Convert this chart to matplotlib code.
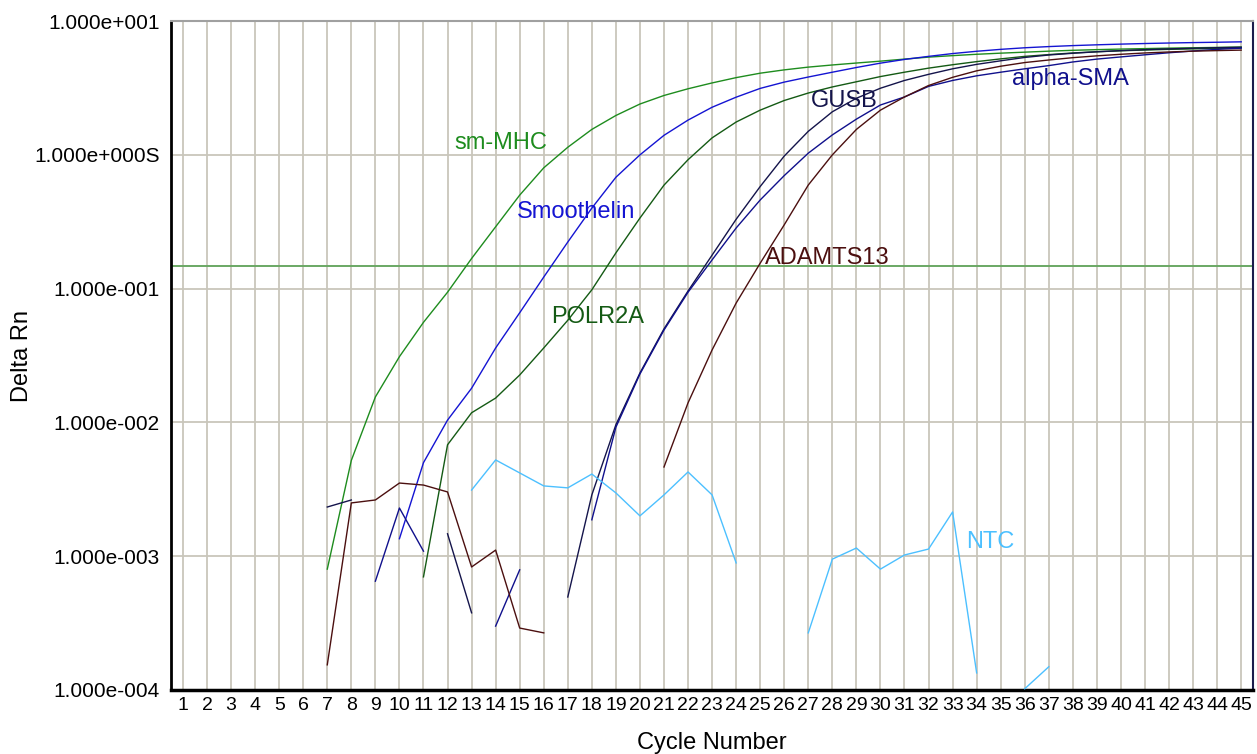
#!/usr/bin/env python3
"""
Amplification plot (Delta Rn vs cycle, log scale) for the qPCR run
"""

import numpy as np
import matplotlib
matplotlib.use("Agg")
import matplotlib.pyplot as plt

nan = np.nan

cycles = np.arange(1, 46)

# Delta Rn per cycle, nan where the value is not plotted
sm_mhc = [nan] * 6 + [
    8.0e-4, 5.2e-3, 0.0155, 0.031, 0.056, 0.094, 0.168, 0.29, 0.50, 0.80,
    1.14, 1.55, 1.97, 2.40, 2.78, 3.12, 3.45, 3.78, 4.08, 4.32,
    4.53, 4.70, 4.86, 5.02, 5.20, 5.38, 5.52, 5.65, 5.76, 5.86,
    5.96, 6.05, 6.12, 6.18, 6.23, 6.28, 6.32, 6.36, 6.40]

smoothelin = [nan] * 9 + [
    1.35e-3, 5.0e-3, 0.0104, 0.018, 0.036, 0.066, 0.122, 0.223, 0.40, 0.68,
    1.0, 1.40, 1.82, 2.27, 2.70, 3.14, 3.50, 3.82, 4.15, 4.50,
    4.85, 5.17, 5.45, 5.72, 5.95, 6.15, 6.32, 6.45, 6.56, 6.65,
    6.73, 6.80, 6.86, 6.91, 6.95, 7.00]

polr2a = [nan] * 10 + [
    7.0e-4, 6.8e-3, 0.0118, 0.0152, 0.0226, 0.036, 0.058, 0.098, 0.185,
    0.337, 0.594, 0.92, 1.34, 1.76, 2.16, 2.55, 2.90, 3.22, 3.52,
    3.85, 4.15, 4.45, 4.72, 4.98, 5.22, 5.45, 5.62, 5.78, 5.90,
    6.00, 6.08, 6.15, 6.20, 6.25, 6.30]

gusb = [nan] * 6 + [
    2.33e-3, 2.63e-3, nan, nan, nan, 1.47e-3, 3.77e-4, nan, nan, nan,
    4.95e-4, 2.87e-3, 9.6e-3, 0.0234, 0.050, 0.096, 0.178, 0.33, 0.58,
    0.98, 1.50, 2.10, 2.65, 3.15, 3.60, 4.00, 4.40, 4.75, 5.05,
    5.35, 5.58, 5.75, 5.90, 6.02, 6.12, 6.20, 6.27, 6.33, 6.38]

alpha_sma = [nan] * 8 + [
    6.5e-4, 2.29e-3, 1.09e-3, nan, nan, 3.0e-4, 7.9e-4, nan, nan,
    1.87e-3, 9.2e-3, 0.023, 0.049, 0.094, 0.164, 0.284, 0.46,
    0.70, 1.03, 1.41, 1.85, 2.36, 2.71, 3.25, 3.60, 3.90, 4.15,
    4.40, 4.65, 4.95, 5.20, 5.40, 5.60, 5.80, 5.98, 6.15, 6.28]

adamts13 = [nan] * 6 + [
    1.54e-4, 2.5e-3, 2.63e-3, 3.52e-3, 3.40e-3, 3.02e-3, 8.3e-4, 1.11e-3,
    2.9e-4, 2.67e-4, nan, nan, nan, nan,
    4.64e-3, 0.0140, 0.0348, 0.078, 0.155, 0.30, 0.595, 1.0, 1.55,
    2.16, 2.71, 3.30, 3.80, 4.25, 4.60, 4.90, 5.12, 5.33, 5.50,
    5.65, 5.78, 5.88, 5.96, 6.02, 6.07]

ntc = [nan] * 12 + [
    3.12e-3, 5.24e-3, 4.19e-3, 3.35e-3, 3.24e-3, 4.11e-3, 2.97e-3, 2.0e-3,
    2.87e-3, 4.26e-3, 2.87e-3, 8.9e-4, nan, nan,
    2.67e-4, 9.5e-4, 1.15e-3, 8.0e-4, 1.02e-3, 1.13e-3, 2.14e-3, 1.34e-4,
    nan, 1.02e-4, 1.49e-4, nan, nan, nan, nan, nan, nan, nan, nan]

threshold = 0.148

# (name, values, colour, label cycle, label Delta Rn)
series = [
    ("sm-MHC", sm_mhc, "#1e8c1e", 14.2, 1.22),
    ("Smoothelin", smoothelin, "#1414d2", 17.35, 0.373),
    ("POLR2A", polr2a, "#145a14", 18.25, 0.0613),
    ("GUSB", gusb, "#14144b", 28.5, 2.52),
    ("alpha-SMA", alpha_sma, "#10108c", 37.9, 3.69),
    ("ADAMTS13", adamts13, "#4b0f0f", 27.8, 0.169),
    ("NTC", ntc, "#4cc0ff", 34.57, 1.28e-3),
]

ytick_vals = [1e-4, 1e-3, 1e-2, 1e-1, 1e0, 1e1]
ytick_labels = ["1.000e-004", "1.000e-003", "1.000e-002",
                "1.000e-001", "1.000e+000S", "1.000e+001"]


def main():
    plt.rcParams['font.family'] = ['Liberation Sans', 'DejaVu Sans']
    fig = plt.figure(figsize=(12.57, 7.54), dpi=100)
    ax = fig.add_axes([0.136, 0.085, 0.861, 0.887])

    ax.axhline(threshold, color="#6aa864", lw=1.4, zorder=2)
    for name, vals, col, lx, ly in series:
        ax.plot(cycles, vals, color=col, lw=1.0, zorder=3)
        ax.text(lx, ly, name, color=col, fontsize=17,
                ha="center", va="center", zorder=4)

    ax.set_yscale("log")
    ax.set_xlim(0.5, 45.5)
    ax.set_ylim(1e-4, 1e1)
    ax.set_xticks(cycles)
    ax.set_xticklabels([str(c) for c in cycles], fontsize=14)
    ax.set_yticks(ytick_vals, ytick_labels, fontsize=15)
    ax.yaxis.set_minor_locator(matplotlib.ticker.NullLocator())
    ax.tick_params(axis="both", length=0)
    ax.tick_params(axis="y", pad=8)
    ax.tick_params(axis="x", pad=5)

    ax.grid(True, color="#c9c6bb", lw=1.3, zorder=1)
    ax.set_axisbelow(True)

    ax.spines["left"].set_color("black")
    ax.spines["left"].set_linewidth(2.0)
    ax.spines["bottom"].set_color("black")
    ax.spines["bottom"].set_linewidth(2.5)
    ax.spines["top"].set_color("#a0a0a0")
    ax.spines["top"].set_linewidth(1.5)
    ax.spines["right"].set_color("#1c1c4c")
    ax.spines["right"].set_linewidth(1.5)

    ax.set_xlabel("Cycle Number", fontsize=17, labelpad=13)
    ax.set_ylabel("Delta Rn", fontsize=17)
    ax.yaxis.set_label_coords(-0.1275, 0.5)

    fig.savefig("out.png", dpi=100)


if __name__ == "__main__":
    main()
